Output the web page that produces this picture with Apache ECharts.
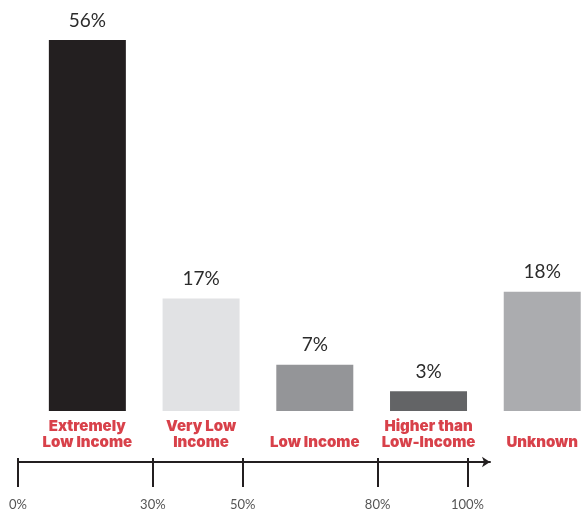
<!DOCTYPE html>
<html>
<head>
<meta charset="utf-8">
<script src="https://cdn.jsdelivr.net/npm/echarts@6/dist/echarts.min.js"></script>
<style>
  html, body { margin: 0; padding: 0; background: #fff; }
  #chart { width: 581px; height: 514px; }
</style>
</head>
<body>
<div id="chart"></div>
<script>
// income groups and their share
var categories = ['Extremely\nLow Income', 'Very Low\nIncome', 'Low Income', 'Higher than\nLow-Income', 'Unknown'];
var shares = [56, 17, 7, 3, 18];
var barColors = ['#231f20', '#e1e2e4', '#949598', '#636466', '#abacaf'];
// area median income thresholds on the lower axis
var amiTicks = [0, 30, 50, 80, 100];

var chart = echarts.init(document.getElementById('chart'));

// bars sit on slots 0..4, last one runs off the right edge
var slots = categories.map(function (c, i) { return i; });

var option = {
  animation: false,
  grid: [
    { left: 30.5, right: 0, top: 13.5, height: 397.5 },
    { left: 18, width: 472, top: 461, height: 1 }
  ],
  xAxis: [
    {
      gridIndex: 0,
      type: 'value',
      min: -0.5,
      max: 4.33,
      splitLine: { show: false },
      axisLine: { show: false },
      axisTick: { show: false },
      axisLabel: {
        customValues: slots,
        formatter: function (v) { return categories[Math.round(v)]; },
        color: '#d8414a',
        fontFamily: 'Inter',
        fontWeight: 900,
        fontSize: 15,
        lineHeight: 16.5,
        verticalAlign: 'bottom',
        margin: 40
      }
    },
    {
      gridIndex: 1,
      type: 'value',
      min: 0,
      max: 105,
      splitLine: { show: false },
      axisLine: {
        lineStyle: { color: '#231f20', width: 2 },
        symbol: ['none', 'arrow'],
        symbolSize: [8, 8]
      },
      axisTick: {
        customValues: amiTicks,
        length: 25,
        lineStyle: { color: '#231f20', width: 2 }
      },
      axisLabel: {
        customValues: amiTicks,
        formatter: '{value}%',
        color: '#555',
        fontFamily: 'Lato',
        fontSize: 13,
        margin: 36
      }
    },
    {
      gridIndex: 1,
      type: 'value',
      min: 0,
      max: 105,
      position: 'bottom',
      splitLine: { show: false },
      axisLine: { show: false },
      axisLabel: { show: false },
      axisTick: {
        customValues: amiTicks,
        inside: true,
        length: 4,
        lineStyle: { color: '#231f20', width: 2 }
      }
    }
  ],
  yAxis: [
    { gridIndex: 0, type: 'value', min: 0, max: 60, show: false },
    { gridIndex: 1, type: 'value', min: 0, max: 1, show: false }
  ],
  series: [
    {
      type: 'bar',
      xAxisIndex: 0,
      yAxisIndex: 0,
      barWidth: 77,
      data: shares.map(function (v, i) {
        return { value: [slots[i], v], itemStyle: { color: barColors[i] } };
      }),
      label: {
        show: true,
        position: 'top',
        distance: 10,
        formatter: function (p) { return p.value[1] + '%'; },
        color: '#2b2b2b',
        fontFamily: 'Lato',
        fontSize: 19
      }
    }
  ]
};

chart.setOption(option);
</script>
</body>
</html>
